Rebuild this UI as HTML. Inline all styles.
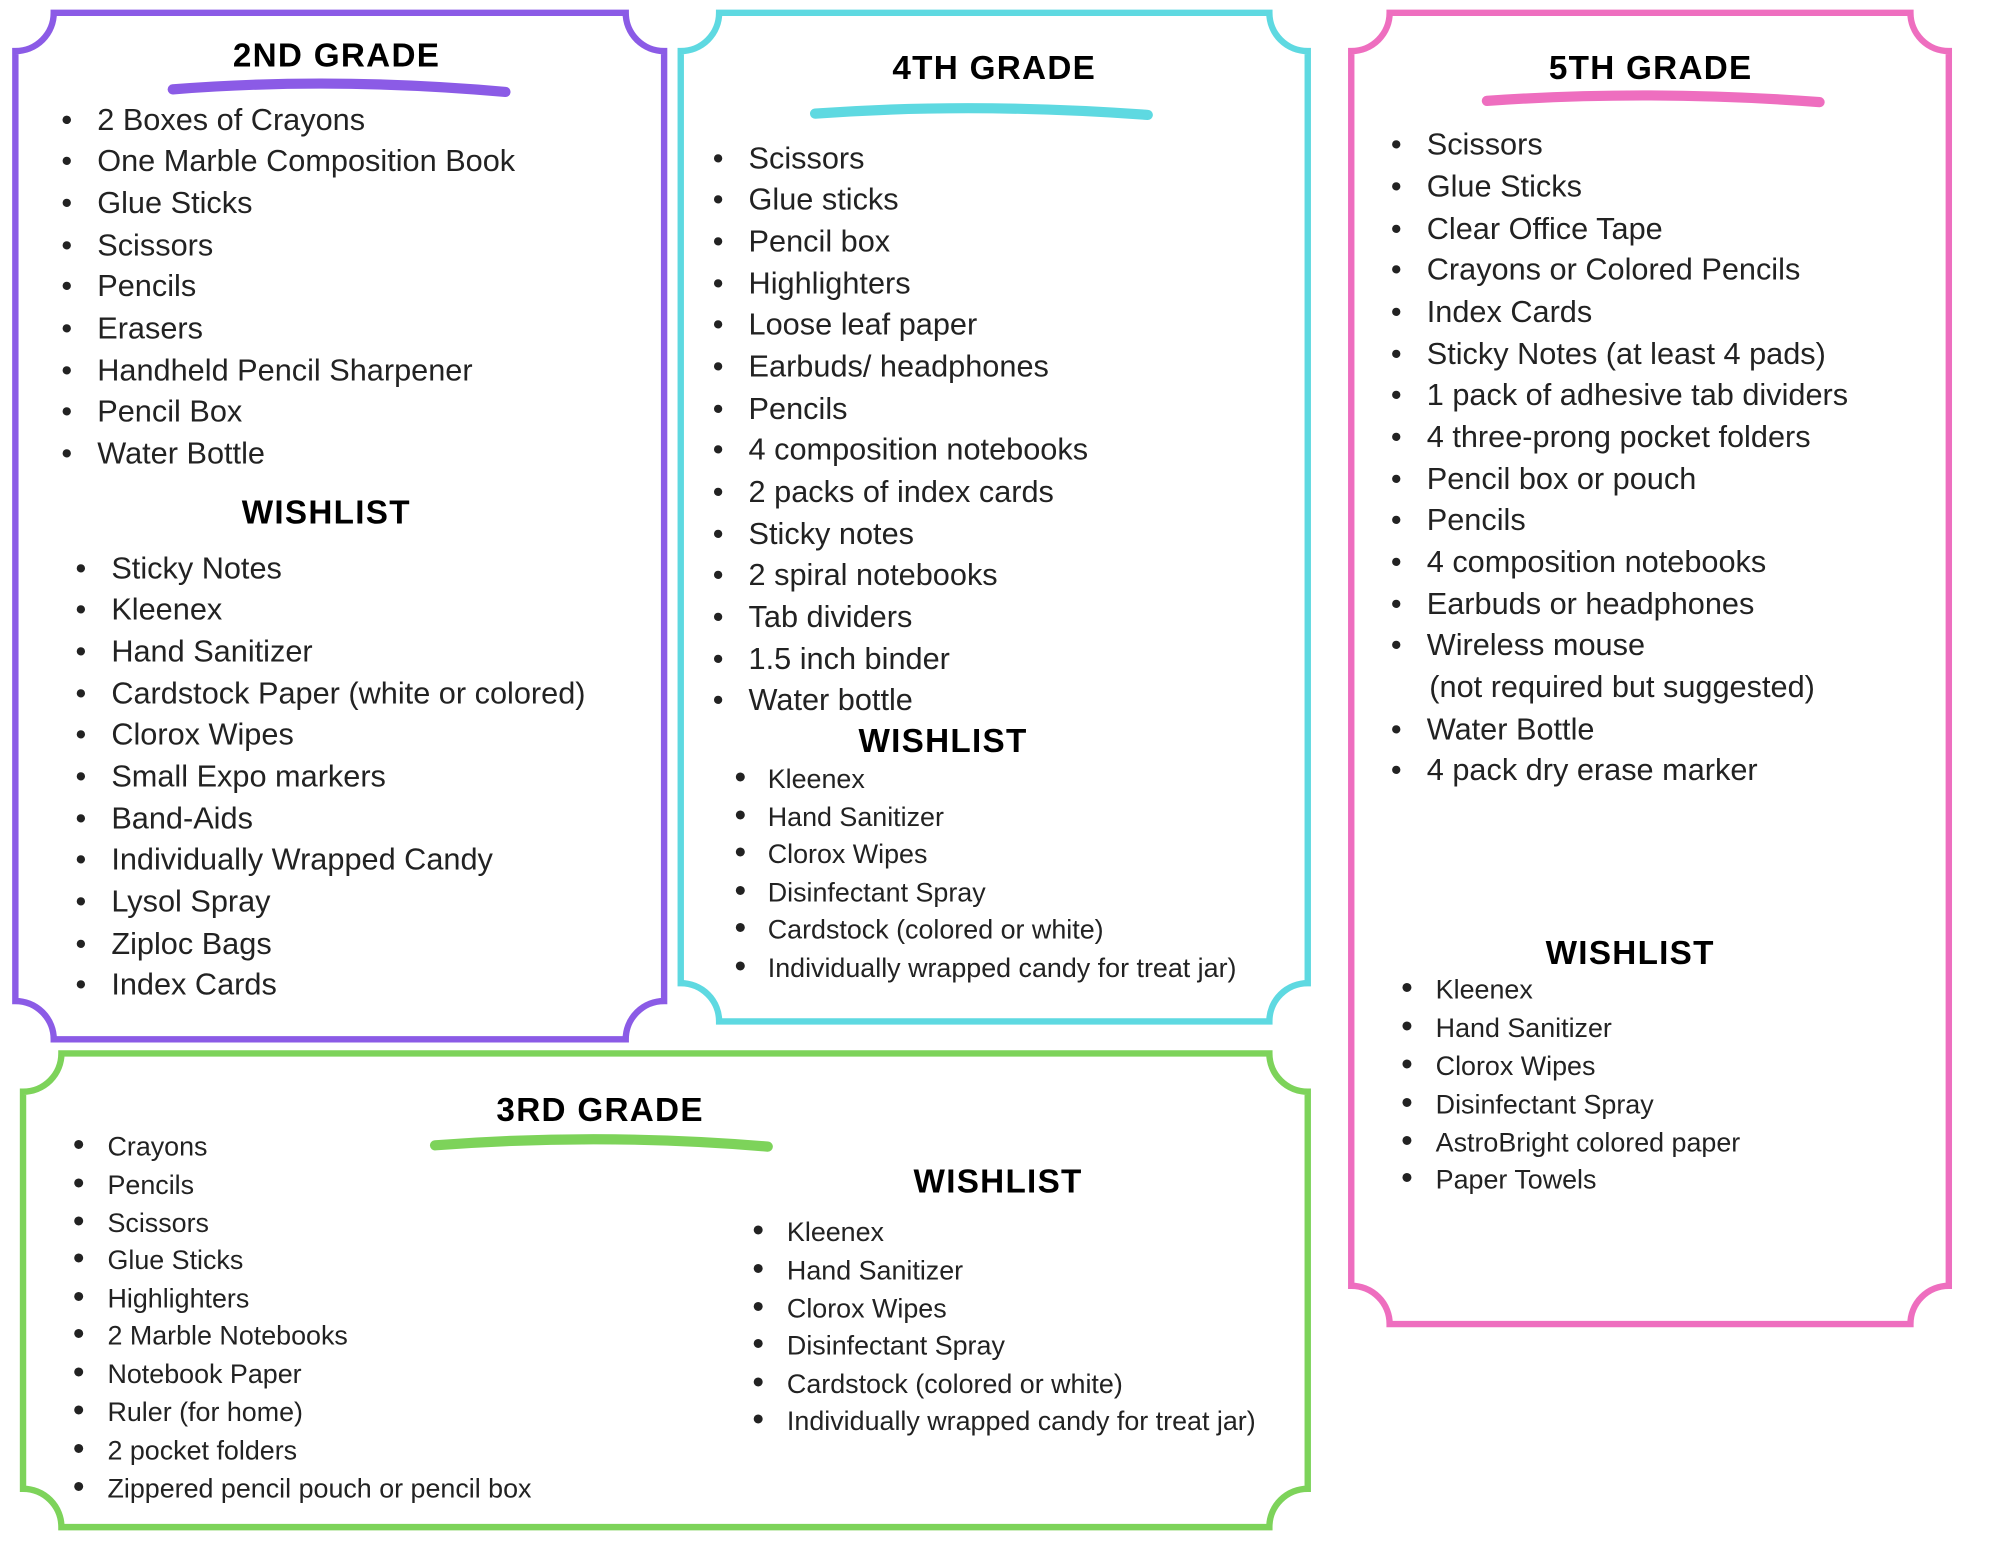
<!DOCTYPE html>
<html><head><meta charset="utf-8"><style>
html,body{margin:0;padding:0;background:#fff;}
svg{display:block}
.t{font-family:"Liberation Sans",sans-serif;fill:#222;}
.l{font-size:24px}
.s{font-size:21px}
.h{font-family:"Liberation Sans",sans-serif;font-weight:900;font-size:26px;fill:#000;text-anchor:middle;letter-spacing:1px}
</style></head><body>
<svg width="2000" height="1545" viewBox="0 0 1563 1210" preserveAspectRatio="none" xmlns="http://www.w3.org/2000/svg">
<g fill="none" stroke-width="5">
<path stroke="#8b5be6" d="M42,10 L489,10 A30,30 0 0 0 519,40 L519,784 A30,30 0 0 0 489,814 L42,814 A30,30 0 0 0 12,784 L12,40 A30,30 0 0 0 42,10 Z"/>
<path stroke="#5ed9e1" d="M562,10 L992,10 A30,30 0 0 0 1022,40 L1022,770 A30,30 0 0 0 992,800 L562,800 A30,30 0 0 0 532,770 L532,40 A30,30 0 0 0 562,10 Z"/>
<path stroke="#ee6ebf" d="M1086,10 L1493,10 A30,30 0 0 0 1523,40 L1523,1007 A30,30 0 0 0 1493,1037 L1086,1037 A30,30 0 0 0 1056,1007 L1056,40 A30,30 0 0 0 1086,10 Z"/>
<path stroke="#7dd35a" d="M48,825 L992,825 A30,30 0 0 0 1022,855 L1022,1166 A30,30 0 0 0 992,1196 L48,1196 A30,30 0 0 0 18,1166 L18,855 A30,30 0 0 0 48,825 Z"/>
</g>
<g stroke-linecap="round" fill="none">
<path d="M135,70 Q260,60 395,72" stroke="#8b5be6" stroke-width="8"/>
<path d="M637,89 Q760,80 897,90" stroke="#5ed9e1" stroke-width="8"/>
<path d="M1162,79 Q1290,70 1422,80" stroke="#ee6ebf" stroke-width="8"/>
<path d="M340,897 Q470,887 600,898" stroke="#7dd35a" stroke-width="8"/>
</g>
<text class="h" x="263" y="52">2ND GRADE</text>
<text class="h" x="255" y="410">WISHLIST</text>
<text class="h" x="777" y="62">4TH GRADE</text>
<text class="h" x="737" y="589">WISHLIST</text>
<text class="h" x="1290" y="62">5TH GRADE</text>
<text class="h" x="1274" y="755">WISHLIST</text>
<text class="h" x="469" y="878">3RD GRADE</text>
<text class="h" x="780" y="934">WISHLIST</text>
<g id="items"></g>
<g class="t l">
<!-- 2nd -->
<text x="48" y="102">•  </text>
</g>
<g class="t l" id="g2"></g>
<g class="t l">
<text x="76" y="102">2 Boxes of Crayons</text><text x="76" y="134">One Marble Composition Book</text><text x="76" y="167">Glue Sticks</text><text x="76" y="200">Scissors</text><text x="76" y="232">Pencils</text><text x="76" y="265">Erasers</text><text x="76" y="298">Handheld Pencil Sharpener</text><text x="76" y="330">Pencil Box</text><text x="76" y="363">Water Bottle</text>
<text x="87" y="453">Sticky Notes</text><text x="87" y="485">Kleenex</text><text x="87" y="518">Hand Sanitizer</text><text x="87" y="551">Cardstock Paper (white or colored)</text><text x="87" y="583">Clorox Wipes</text><text x="87" y="616">Small Expo markers</text><text x="87" y="649">Band-Aids</text><text x="87" y="681">Individually Wrapped Candy</text><text x="87" y="714">Lysol Spray</text><text x="87" y="747">Ziploc Bags</text><text x="87" y="779">Index Cards</text>
<text x="585" y="132">Scissors</text><text x="585" y="164">Glue sticks</text><text x="585" y="197">Pencil box</text><text x="585" y="230">Highlighters</text><text x="585" y="262">Loose leaf paper</text><text x="585" y="295">Earbuds/ headphones</text><text x="585" y="328">Pencils</text><text x="585" y="360">4 composition notebooks</text><text x="585" y="393">2 packs of index cards</text><text x="585" y="426">Sticky notes</text><text x="585" y="458">2 spiral notebooks</text><text x="585" y="491">Tab dividers</text><text x="585" y="524">1.5 inch binder</text><text x="585" y="556">Water bottle</text>
<text x="1115" y="121">Scissors</text><text x="1115" y="154">Glue Sticks</text><text x="1115" y="187">Clear Office Tape</text><text x="1115" y="219">Crayons or Colored Pencils</text><text x="1115" y="252">Index Cards</text><text x="1115" y="285">Sticky Notes (at least 4 pads)</text><text x="1115" y="317">1 pack of adhesive tab dividers</text><text x="1115" y="350">4 three-prong pocket folders</text><text x="1115" y="383">Pencil box or pouch</text><text x="1115" y="415">Pencils</text><text x="1115" y="448">4 composition notebooks</text><text x="1115" y="481">Earbuds or headphones</text><text x="1115" y="513">Wireless mouse</text><text x="1117" y="546">(not required but suggested)</text><text x="1115" y="579">Water Bottle</text><text x="1115" y="611">4 pack dry erase marker</text>
</g>
<g class="t l" font-size="30">
<text x="48" y="102">•</text><text x="48" y="134">•</text><text x="48" y="167">•</text><text x="48" y="200">•</text><text x="48" y="232">•</text><text x="48" y="265">•</text><text x="48" y="298">•</text><text x="48" y="330">•</text><text x="48" y="363">•</text>
<text x="59" y="453">•</text><text x="59" y="485">•</text><text x="59" y="518">•</text><text x="59" y="551">•</text><text x="59" y="583">•</text><text x="59" y="616">•</text><text x="59" y="649">•</text><text x="59" y="681">•</text><text x="59" y="714">•</text><text x="59" y="747">•</text><text x="59" y="779">•</text>
<text x="557" y="132">•</text><text x="557" y="164">•</text><text x="557" y="197">•</text><text x="557" y="230">•</text><text x="557" y="262">•</text><text x="557" y="295">•</text><text x="557" y="328">•</text><text x="557" y="360">•</text><text x="557" y="393">•</text><text x="557" y="426">•</text><text x="557" y="458">•</text><text x="557" y="491">•</text><text x="557" y="524">•</text><text x="557" y="556">•</text>
<text x="1087" y="121">•</text><text x="1087" y="154">•</text><text x="1087" y="187">•</text><text x="1087" y="219">•</text><text x="1087" y="252">•</text><text x="1087" y="285">•</text><text x="1087" y="317">•</text><text x="1087" y="350">•</text><text x="1087" y="383">•</text><text x="1087" y="415">•</text><text x="1087" y="448">•</text><text x="1087" y="481">•</text><text x="1087" y="513">•</text><text x="1087" y="579">•</text><text x="1087" y="611">•</text>
</g>
<g class="t s">
<text x="600" y="617">Kleenex</text><text x="600" y="647">Hand Sanitizer</text><text x="600" y="676">Clorox Wipes</text><text x="600" y="706">Disinfectant Spray</text><text x="600" y="735">Cardstock (colored or white)</text><text x="600" y="765">Individually wrapped candy for treat jar)</text>
<text x="1122" y="782">Kleenex</text><text x="1122" y="812">Hand Sanitizer</text><text x="1122" y="842">Clorox Wipes</text><text x="1122" y="872">Disinfectant Spray</text><text x="1122" y="902">AstroBright colored paper</text><text x="1122" y="931">Paper Towels</text>
<text x="84" y="905">Crayons</text><text x="84" y="935">Pencils</text><text x="84" y="965">Scissors</text><text x="84" y="994">Glue Sticks</text><text x="84" y="1024">Highlighters</text><text x="84" y="1053">2 Marble Notebooks</text><text x="84" y="1083">Notebook Paper</text><text x="84" y="1113">Ruler (for home)</text><text x="84" y="1143">2 pocket folders</text><text x="84" y="1173">Zippered pencil pouch or pencil box</text>
<text x="615" y="972">Kleenex</text><text x="615" y="1002">Hand Sanitizer</text><text x="615" y="1032">Clorox Wipes</text><text x="615" y="1061">Disinfectant Spray</text><text x="615" y="1091">Cardstock (colored or white)</text><text x="615" y="1120">Individually wrapped candy for treat jar)</text>
</g>
<g class="t" font-size="26">
<text x="574" y="617">•</text><text x="574" y="647">•</text><text x="574" y="676">•</text><text x="574" y="706">•</text><text x="574" y="735">•</text><text x="574" y="765">•</text>
<text x="1095" y="782">•</text><text x="1095" y="812">•</text><text x="1095" y="842">•</text><text x="1095" y="872">•</text><text x="1095" y="902">•</text><text x="1095" y="931">•</text>
<text x="57" y="905">•</text><text x="57" y="935">•</text><text x="57" y="965">•</text><text x="57" y="994">•</text><text x="57" y="1024">•</text><text x="57" y="1053">•</text><text x="57" y="1083">•</text><text x="57" y="1113">•</text><text x="57" y="1143">•</text><text x="57" y="1173">•</text>
<text x="588" y="972">•</text><text x="588" y="1002">•</text><text x="588" y="1032">•</text><text x="588" y="1061">•</text><text x="588" y="1091">•</text><text x="588" y="1120">•</text>
</g>
</svg>
</body></html>
